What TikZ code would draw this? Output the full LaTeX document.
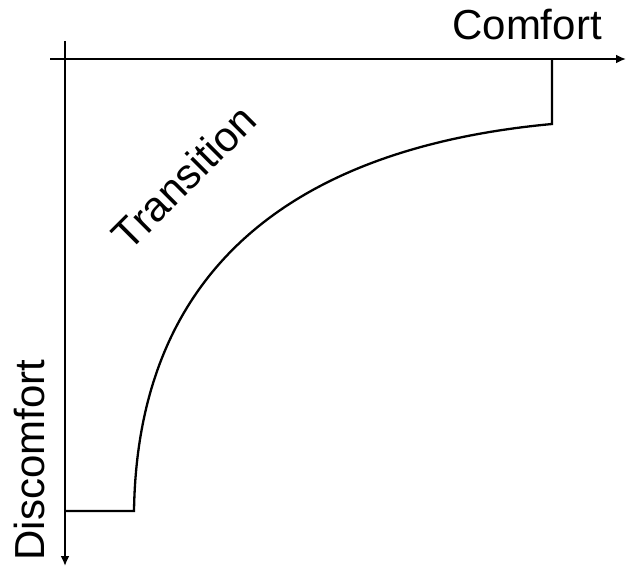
\documentclass[tikz,border=0pt]{standalone}
\usepackage{fontspec}
\setmainfont{Liberation Sans}
\usetikzlibrary{arrows.meta}

\begin{document}
\begin{tikzpicture}[x=1pt,y=-1pt,>={Latex[length=10pt,width=9pt]},
    axis/.style={line width=2.8pt},
    curve/.style={line width=2.3pt},
    lbl/.style={inner sep=0pt,font=\fontsize{42}{48}\selectfont}]
        \useasboundingbox (0,0) rectangle (626,567);
        % axes
        \coordinate (xstart) at (50,59);
        \coordinate (xend) at (626,59);
        \coordinate (ystart) at (65,41);
        \coordinate (yend) at (65,566);
        \draw[axis,->] (xstart) -- (xend);
        \draw[axis,->] (ystart) -- (yend);
        % transition curve
        \coordinate (low) at (65,511);
        \coordinate (lowend) at (134,511);
        \coordinate (high) at (552,124);
        \coordinate (highend) at (552,59);
        \draw[curve] (low) -- (lowend) .. controls (138,245) and (325,145) .. (high) -- (highend);
        % labels
        \node[lbl] (comfort) at (527,25) {Comfort};
        \node[lbl,rotate=90] (discomfort) at (29,460) {Discomfort};
        \node[lbl,rotate=45] (transition) at (184,177) {Transition};
    \end{tikzpicture}
\end{document}
